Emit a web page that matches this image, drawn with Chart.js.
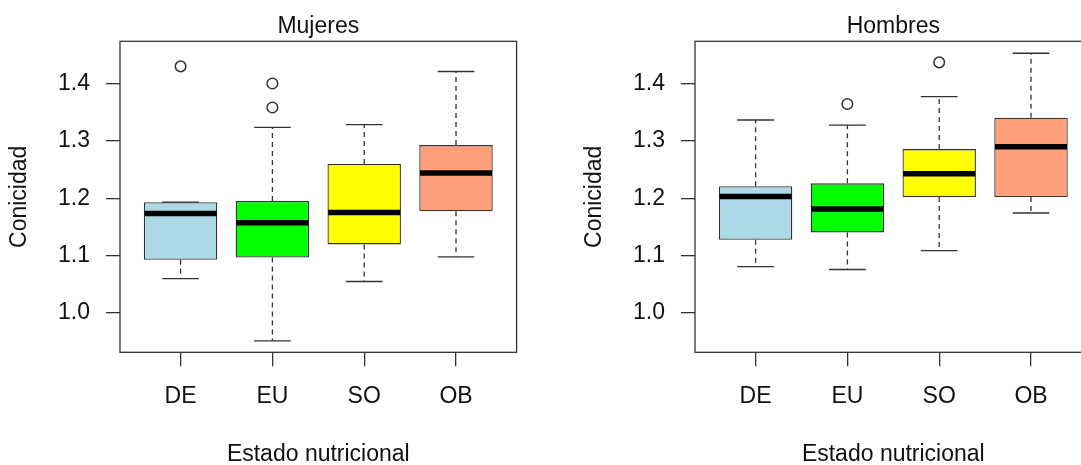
<!DOCTYPE html>
<html>
<head>
<meta charset="utf-8">
<script src="https://cdn.jsdelivr.net/npm/chart.js@4.4.1/dist/chart.umd.min.js"></script>
<style>
  html, body { margin: 0; padding: 0; background: #ffffff; overflow: hidden; width: 1081px; height: 465px; }
  #wrap { position: relative; width: 1081px; height: 465px; overflow: hidden; }
  canvas { position: absolute; top: 0; }
  #mujeres { left: 0; }
  #hombres { left: 575px; }
</style>
</head>
<body>
<div id="wrap">
  <canvas id="mujeres" width="575" height="465"></canvas>
  <canvas id="hombres" width="575" height="465"></canvas>
</div>
<script>
// Nutritional status groups and their box fills
const categories = ['DE', 'EU', 'SO', 'OB'];
const boxColors = ['#ADD8E6', '#00FF00', '#FFFF00', '#FFA07A'];
const yTickValues = [1.0, 1.1, 1.2, 1.3, 1.4];
const yMin = 0.9299;
const yMax = 1.4749;

// Conicidad index summary statistics - women
const mujeresLow    = [1.059, 0.950, 1.054, 1.097];
const mujeresQ1     = [1.092, 1.096, 1.119, 1.177];
const mujeresMedian = [1.173, 1.157, 1.175, 1.244];
const mujeresQ3     = [1.193, 1.195, 1.260, 1.293];
const mujeresHigh   = [1.193, 1.324, 1.329, 1.422];
const mujeresOutliers = [[1.431], [1.401, 1.359], [], []];

// Conicidad index summary statistics - men
const hombresLow    = [1.080, 1.075, 1.108, 1.174];
const hombresQ1     = [1.127, 1.140, 1.202, 1.202];
const hombresMedian = [1.203, 1.181, 1.243, 1.290];
const hombresQ3     = [1.221, 1.226, 1.286, 1.341];
const hombresHigh   = [1.337, 1.328, 1.378, 1.454];
const hombresOutliers = [[], [1.365], [1.438], []];

const FONT = 'Liberation Sans, Arial, Helvetica, sans-serif';
const INK = '#111111';
const LINE = '#333333';

// Whiskers, caps, medians and the plot frame, positioned through the chart scales
const boxWhiskers = {
  id: 'boxWhiskers',
  beforeDatasetsDraw(chart, args, opts) {
    const { ctx, scales: { x, y } } = chart;
    ctx.save();
    ctx.strokeStyle = LINE;
    ctx.lineWidth = 1.3;
    opts.low.forEach((lo, i) => {
      const cx = x.getPixelForValue(i + 1);
      const capHalf = x.getPixelForValue(i + 1.2) - cx;
      const yLo = y.getPixelForValue(lo);
      const yHi = y.getPixelForValue(opts.high[i]);
      const yQ1 = y.getPixelForValue(opts.q1[i]);
      const yQ3 = y.getPixelForValue(opts.q3[i]);
      ctx.setLineDash([5, 4]);
      ctx.beginPath();
      ctx.moveTo(cx, yQ3); ctx.lineTo(cx, yHi);
      ctx.moveTo(cx, yQ1); ctx.lineTo(cx, yLo);
      ctx.stroke();
      ctx.setLineDash([]);
      ctx.beginPath();
      ctx.moveTo(cx - capHalf, yHi); ctx.lineTo(cx + capHalf, yHi);
      ctx.moveTo(cx - capHalf, yLo); ctx.lineTo(cx + capHalf, yLo);
      ctx.stroke();
    });
    ctx.restore();
  },
  afterDatasetsDraw(chart, args, opts) {
    const { ctx, chartArea, scales: { x, y } } = chart;
    ctx.save();
    ctx.strokeStyle = '#000000';
    ctx.lineWidth = 5.5;
    ctx.lineCap = 'butt';
    opts.median.forEach((m, i) => {
      const x0 = x.getPixelForValue(i + 1 - 0.4);
      const x1 = x.getPixelForValue(i + 1 + 0.4);
      const ym = y.getPixelForValue(m);
      ctx.beginPath();
      ctx.moveTo(x0 + 0.7, ym); ctx.lineTo(x1 - 0.7, ym);
      ctx.stroke();
    });
    ctx.strokeStyle = LINE;
    ctx.lineWidth = 1.3;
    ctx.strokeRect(chartArea.left, chartArea.top, chartArea.right - chartArea.left, chartArea.bottom - chartArea.top);
    ctx.restore();
  }
};

function makePanel(canvasId, title, low, q1, median, q3, high, outliers) {
  const boxes = q1.map((v, i) => ({ x: i + 1, y: [v, q3[i]] }));
  const outlierPoints = [];
  outliers.forEach((vals, i) => vals.forEach(v => outlierPoints.push({ x: i + 1, y: v })));

  return new Chart(document.getElementById(canvasId), {
    type: 'bar',
    data: {
      datasets: [
        {
          type: 'bar',
          data: boxes,
          backgroundColor: boxColors,
          borderColor: LINE,
          borderWidth: 1.3,
          borderSkipped: false,
          barPercentage: 0.8,
          categoryPercentage: 1.0
        },
        {
          type: 'scatter',
          data: outlierPoints,
          pointStyle: 'circle',
          pointRadius: 5.3,
          pointBorderWidth: 1.5,
          borderColor: LINE,
          backgroundColor: 'rgba(0,0,0,0)',
          showLine: false
        }
      ]
    },
    options: {
      responsive: false,
      animation: false,
      events: [],
      devicePixelRatio: 1,
      layout: { padding: { left: 0, top: 0, right: 58.4, bottom: 0 } },
      plugins: {
        legend: { display: false },
        tooltip: { enabled: false },
        title: {
          display: true,
          text: title,
          fullSize: false,
          color: INK,
          font: { family: FONT, size: 23, weight: 'normal', lineHeight: 1.2 },
          padding: { top: 13.2, bottom: 0.5 }
        },
        boxWhiskers: { low, q1, median, q3, high }
      },
      scales: {
        x: {
          type: 'linear',
          min: 0.34,
          max: 4.66,
          offset: false,
          afterBuildTicks: s => { s.ticks = categories.map((c, i) => ({ value: i + 1 })); },
          afterFit: s => { s.height = 112.7; },
          ticks: {
            callback: (v, idx) => categories[idx],
            autoSkip: false,
            maxRotation: 0,
            padding: 17,
            color: INK,
            font: { family: FONT, size: 23, lineHeight: 1.2 }
          },
          grid: { offset: false, drawOnChartArea: false, drawTicks: true, tickLength: 14, color: LINE, lineWidth: 1.3 },
          border: { display: false },
          title: {
            display: true,
            text: 'Estado nutricional',
            color: INK,
            font: { family: FONT, size: 23, lineHeight: 1.0 },
            padding: { top: 0, bottom: -1.5 }
          }
        },
        y: {
          type: 'linear',
          min: yMin,
          max: yMax,
          afterBuildTicks: s => { s.ticks = yTickValues.map(v => ({ value: v })); },
          afterFit: s => { s.width = 120; },
          ticks: {
            callback: v => Number(v).toFixed(1),
            padding: 16,
            color: INK,
            font: { family: FONT, size: 23, lineHeight: 1.2 }
          },
          grid: { drawOnChartArea: false, drawTicks: true, tickLength: 14, color: LINE, lineWidth: 1.3 },
          border: { display: false },
          title: {
            display: true,
            text: 'Conicidad',
            color: INK,
            font: { family: FONT, size: 23, lineHeight: 1.2 },
            padding: { top: 6.2, bottom: 0 }
          }
        }
      }
    },
    plugins: [boxWhiskers]
  });
}

makePanel('mujeres', 'Mujeres', mujeresLow, mujeresQ1, mujeresMedian, mujeresQ3, mujeresHigh, mujeresOutliers);
makePanel('hombres', 'Hombres', hombresLow, hombresQ1, hombresMedian, hombresQ3, hombresHigh, hombresOutliers);
</script>
</body>
</html>
